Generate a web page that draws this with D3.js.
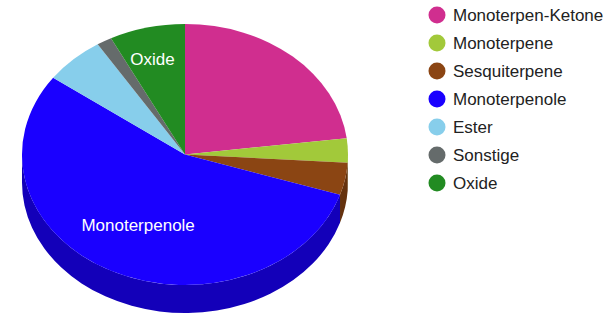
<!DOCTYPE html>
<html>
<head>
<meta charset="utf-8">
<script src="https://cdn.jsdelivr.net/npm/d3@7"></script>
<style>
  body { margin: 0; background: #fff; }
  text { font-family: "Liberation Sans", Arial, sans-serif; }
</style>
</head>
<body>
<div id="chart"></div>
<script>
let width = 606;
let height = 315;

// slice data, clockwise from 12 o'clock
const categories = ["Monoterpen-Ketone", "Monoterpene", "Sesquiterpene", "Monoterpenole", "Ester", "Sonstige", "Oxide"];
const values = [23, 3, 4, 55, 6, 1.5, 7.5];
const colors = ["#d02e8f", "#a2c93a", "#8b4513", "#1a00ff", "#87ceeb", "#656b6b", "#228b22"];
const labelled = ["Monoterpenole", "Oxide"];

let cx = 185, cy = 154.5, rx = 163, ry = 130.5, depth = 28;

let svg = d3
  .select("#chart")
  .append("svg")
  .attr("width", width)
  .attr("height", height);

const data = categories.map((c, i) => ({ name: c, value: values[i], color: colors[i] }));
const arcs = d3.pie().sort(null).value((d) => d.value)(data);

function pt(a, dy) {
  return [cx + rx * Math.sin(a), cy - ry * Math.cos(a) + (dy || 0)];
}

// outer walls, only the front half is visible
let walls = svg.append("g");
arcs.forEach((d) => {
  let s = Math.max(d.startAngle, Math.PI / 2);
  let e = Math.min(d.endAngle, Math.PI * 1.5);
  if (e <= s) return;
  let p0 = pt(s), p1 = pt(e), p2 = pt(e, depth), p3 = pt(s, depth);
  let dstr =
    "M" + p0 + "A" + rx + "," + ry + " 0 0 1 " + p1 +
    "L" + p2 + "A" + rx + "," + ry + " 0 0 0 " + p3 + "Z";
  walls.append("path")
    .attr("d", dstr)
    .attr("fill", d3.color(d.data.color).darker(0.9));
});

// top faces
let faces = svg.append("g");
arcs.forEach((d) => {
  let p0 = pt(d.startAngle), p1 = pt(d.endAngle);
  let large = d.endAngle - d.startAngle > Math.PI ? 1 : 0;
  faces.append("path")
    .attr("d", "M" + cx + "," + cy + "L" + p0 + "A" + rx + "," + ry + " 0 " + large + " 1 " + p1 + "Z")
    .attr("fill", d.data.color);
});

// slice labels
svg.append("g")
  .selectAll("text")
  .data(arcs.filter((d) => labelled.includes(d.data.name)))
  .enter()
  .append("text")
  .attr("x", (d) => {
    let f = d.value > 30 ? 0.62 : 0.75;
    return cx + rx * f * Math.sin((d.startAngle + d.endAngle) / 2) - (d.value > 30 ? 1 : 4);
  })
  .attr("y", (d) => {
    let f = d.value > 30 ? 0.61 : 0.75;
    return cy - ry * f * Math.cos((d.startAngle + d.endAngle) / 2) + 6;
  })
  .attr("text-anchor", "middle")
  .attr("fill", "#fff")
  .style("font-size", "17px")
  .text((d) => d.data.name);

// legend
let legend = svg.append("g").attr("transform", "translate(437,15)");
let rows = legend
  .selectAll("g")
  .data(data)
  .enter()
  .append("g")
  .attr("transform", (d, i) => "translate(0," + i * 28 + ")");
rows.append("circle").attr("r", 8.5).attr("fill", (d) => d.color);
rows.append("text")
  .attr("x", 16)
  .attr("y", 6)
  .attr("fill", "#222")
  .style("font-size", "17px")
  .text((d) => d.name);
</script>
</body>
</html>
